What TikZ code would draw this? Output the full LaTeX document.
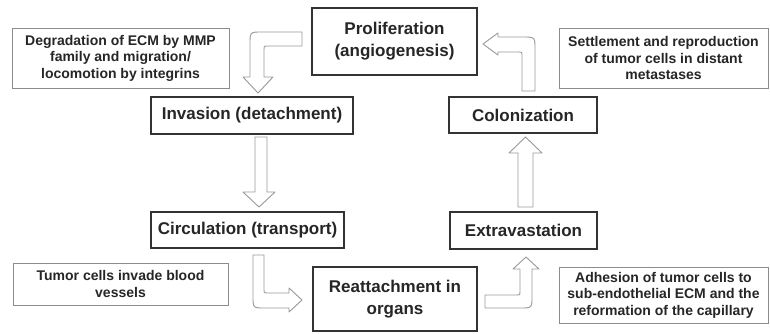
\documentclass[tikz,border=0pt]{standalone}
\usepackage{fontspec}
\setmainfont{Liberation Sans}
\begin{document}
\begin{tikzpicture}[x=1pt,y=-1pt,
  mainbox/.style={draw=black!80, line width=1.4pt, fill=white, text=black!85,
    font=\fontsize{17}{22}\selectfont\bfseries, align=center, inner sep=0pt},
  sidebox/.style={draw=black!45, line width=0.9pt, fill=white, text=black!85,
    font=\fontsize{14}{16.5}\selectfont\bfseries, align=center, inner sep=0pt},
  barrow/.style={draw=black!40, line width=0.9pt, fill=white, line join=round}]
\useasboundingbox[fill=white] (0,0) rectangle (770,333);

% main stages
\node[mainbox, minimum width=165, minimum height=67] (prolif) at (394.5,41.5) {Proliferation\\(angiogenesis)};
\node[mainbox, minimum width=202, minimum height=37] (inv) at (252,115.5) {Invasion (detachment)};
\node[mainbox, minimum width=193, minimum height=36] (circ) at (247.5,230) {Circulation (transport)};
\node[mainbox, minimum width=164, minimum height=64] (reatt) at (395,299) {Reattachment in\\organs};
\node[mainbox, minimum width=148, minimum height=36] (colon) at (523,115) {Colonization};
\node[mainbox, minimum width=147, minimum height=37] (extra) at (523.5,230.5) {Extravastation};

% descriptions
\node[sidebox, minimum width=217, minimum height=60] (degr) at (120.5,58) {Degradation of ECM by MMP\\family and migration/\\locomotion by integrins};
\node[sidebox, minimum width=209, minimum height=60] (settle) at (663.5,58) {Settlement and reproduction\\of tumor cells in distant\\metastases};
\node[sidebox, minimum width=215, minimum height=42] (tumor) at (120.5,284) {Tumor cells invade blood\\vessels};
\node[sidebox, minimum width=209, minimum height=56] (adhes) at (663.5,295) {Adhesion of tumor cells to\\sub-endothelial ECM and the\\reformation of the capillary};

% block arrows
% proliferation -> invasion
\draw[barrow] (302,32) -- (262,32) .. controls (250,32) .. (250,44) -- (250,77) -- (243,77) -- (258,93) -- (273,77) -- (264,77) -- (264,49) .. controls (264,46) .. (267,46) -- (302,46) -- cycle;
% invasion -> circulation
\draw[barrow] (255,137) -- (255,192) -- (243,192) -- (259,207) -- (275,192) -- (267,192) -- (267,137) -- cycle;
% circulation -> reattachment
\draw[barrow] (253,255) -- (253,296) .. controls (253,308) .. (265,308) -- (289,308) -- (289,312) -- (302,300) -- (289,288) -- (289,293) -- (267,293) .. controls (264,293) .. (264,290) -- (264,255) -- cycle;
% reattachment -> extravastation
\draw[barrow] (485,295) -- (517,295) .. controls (520,295) .. (520,292) -- (520,269) -- (513,269) -- (526,257) -- (539,269) -- (532,269) -- (532,296) .. controls (532,308) .. (520,308) -- (485,308) -- cycle;
% extravastation -> colonization
\draw[barrow] (518,207) -- (518,153) -- (509,153) -- (525.5,137) -- (542,153) -- (533,153) -- (533,207) -- cycle;
% colonization -> proliferation
\draw[barrow] (483,44) -- (498,33) -- (498,37) -- (523,37) .. controls (535,37) .. (535,49) -- (535,91) -- (522,91) -- (522,55) .. controls (522,52) .. (519,52) -- (498,52) -- (498,55) -- cycle;
\end{tikzpicture}
\end{document}
